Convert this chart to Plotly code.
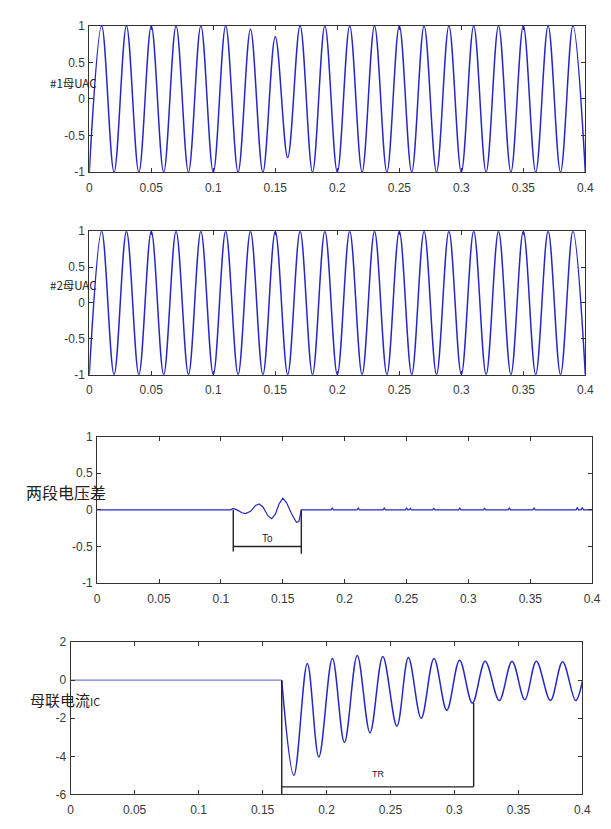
import plotly.graph_objects as go

# ---------------- data ----------------
# Bus #1 / #2 voltage: extrema every half cycle (50 Hz), t = 0 .. 0.40
t_ext = [round(0.01 * i, 2) for i in range(41)]
uac1 = [-1, 1, -1, 1, -1, 1, -1, 1, -1, 1,
        -1, 1, -1, 0.95, -1, 0.85, -0.8, 1, -1, 1,
        -1, 1, -1, 1, -1, 1, -1, 1, -1, 1,
        -1, 1, -1, 1, -1, 1, -1, 1, -1, 1, -1]
uac2 = [-1, 1, -1, 1, -1, 1, -1, 1, -1, 1,
        -1, 1, -1, 1, -1, 1, -1, 1, -1, 1,
        -1, 1, -1, 1, -1, 1, -1, 1, -1, 1,
        -1, 1, -1, 1, -1, 1, -1, 1, -1, 1, -1]

# Voltage difference between the two sections
du_t = [0, 0.108, 0.110, 0.113, 0.117, 0.120, 0.124, 0.128, 0.131, 0.134,
        0.138, 0.141, 0.144, 0.147, 0.150, 0.153, 0.157, 0.161, 0.163, 0.165]
du_v = [0, 0.0, 0.02, 0.0, -0.04, -0.05, -0.02, 0.06, 0.08, 0.04,
        -0.08, -0.12, -0.06, 0.08, 0.16, 0.10, -0.05, -0.17, -0.16, 0.0]
spike_t = [0.190, 0.211, 0.232, 0.250, 0.253, 0.272, 0.293, 0.313, 0.333, 0.353, 0.388, 0.392]
spike_h = [0.025, 0.025, 0.025, 0.025, 0.02, 0.02, 0.025, 0.02, 0.025, 0.025, 0.03, 0.03]

# Bus-tie current IC
ic_flat_t = [0, 0.165]
ic_flat_v = [0, 0]
ic_t = [0.165, 0.1745, 0.185, 0.194, 0.2046, 0.214, 0.224, 0.234, 0.244, 0.255,
        0.264, 0.274, 0.284, 0.294, 0.304, 0.314, 0.324, 0.335, 0.345, 0.355,
        0.364, 0.375, 0.3845, 0.3947, 0.4]
ic_v = [0, -5.0, 0.88, -4.03, 1.14, -3.27, 1.3, -2.76, 1.25, -2.42,
        1.19, -2.0, 1.14, -1.58, 1.05, -1.2, 1.0, -1.07, 1.0, -1.03,
        1.0, -1.07, 0.97, -1.07, -0.05]

# bracket markers
to_start, to_end, to_bar, to_left_bottom, to_right_bottom = 0.110, 0.165, -0.5, -0.57, -0.6
tr_start, tr_end, tr_bar, tr_right_top = 0.165, 0.315, -5.6, -1.2

# ticks
x_ticks = [0, 0.05, 0.1, 0.15, 0.2, 0.25, 0.3, 0.35, 0.4]
x_labels = ["0", "0.05", "0.1", "0.15", "0.2", "0.25", "0.3", "0.35", "0.4"]
y_ticks_u = [-1, -0.5, 0, 0.5, 1]
y_labels_u = ["-1", "-0.5", "0", "0.5", "1"]
y_ticks_i = [-6, -4, -2, 0, 2]
y_labels_i = ["-6", "-4", "-2", "0", "2"]

# ---------------- figure ----------------
W, H = 611, 829
BLUE = "#2727c4"
fig = go.Figure()

fig.add_trace(go.Scatter(x=t_ext, y=uac1, mode="lines", line=dict(color=BLUE, width=1.5, shape="spline"),
                         xaxis="x", yaxis="y", hoverinfo="skip"))
fig.add_trace(go.Scatter(x=t_ext, y=uac2, mode="lines", line=dict(color=BLUE, width=1.5, shape="spline"),
                         xaxis="x2", yaxis="y2", hoverinfo="skip"))

# voltage difference: oscillation + spikes
dx, dy = list(du_t), list(du_v)
for st, sh in zip(spike_t, spike_h):
    dx += [st - 0.001, st, st + 0.001]
    dy += [0, sh, 0]
dx.append(0.4)
dy.append(0)
fig.add_trace(go.Scatter(x=dx, y=dy, mode="lines", line=dict(color=BLUE, width=1.2),
                         xaxis="x3", yaxis="y3", hoverinfo="skip"))
fig.add_trace(go.Scatter(
    x=[to_start, to_start, None, to_end, to_end, None, to_start, to_end],
    y=[0, to_left_bottom, None, 0, to_right_bottom, None, to_bar, to_bar],
    mode="lines", line=dict(color="#222", width=1.4), xaxis="x3", yaxis="y3", hoverinfo="skip"))

fig.add_trace(go.Scatter(x=ic_flat_t, y=ic_flat_v, mode="lines", line=dict(color="#7a7ae0", width=1.2),
                         xaxis="x4", yaxis="y4", hoverinfo="skip"))
fig.add_trace(go.Scatter(x=ic_t, y=ic_v, mode="lines", line=dict(color=BLUE, width=1.5, shape="spline"),
                         xaxis="x4", yaxis="y4", hoverinfo="skip"))
fig.add_trace(go.Scatter(
    x=[tr_start, tr_start, None, tr_end, tr_end, None, tr_start, tr_end],
    y=[0, -6, None, tr_right_top, tr_bar, None, tr_bar, tr_bar],
    mode="lines", line=dict(color="#222", width=1.4), xaxis="x4", yaxis="y4", hoverinfo="skip"))


def px_x(p):
    return p / W


def px_y(p):
    return 1 - p / H


panels = [
    # left, right, top, bottom (pixels)
    (88, 594, 19, 168),
    (88, 594, 228, 374),
    (96, 601, 437, 586),
    (69, 591, 646, 801),
]
axfont = dict(family="Liberation Sans, Arial, sans-serif", size=12, color="#3a3a3a")
common = dict(showline=True, linecolor="#333", linewidth=1, mirror="ticks", ticks="inside",
              ticklen=4, tickcolor="#333", showgrid=False, zeroline=False, tickfont=axfont,
              fixedrange=True)
layout_axes = {}
for i, (l, r, t, b) in enumerate(panels, start=1):
    sx = "" if i == 1 else str(i)
    layout_axes["xaxis" + sx] = dict(domain=[px_x(l), px_x(r)], anchor="y" + sx, range=[0, 0.4],
                                    tickvals=x_ticks, ticktext=x_labels, ticklabelstandoff=4,
                                    **common)
    if i < 4:
        yr, yt, yl = [-1, 1], y_ticks_u, y_labels_u
    else:
        yr, yt, yl = [-6, 2], y_ticks_i, y_labels_i
    layout_axes["yaxis" + sx] = dict(domain=[px_y(b), px_y(t)], anchor="x" + sx, range=yr,
                                    tickvals=yt, ticktext=yl, ticklabelstandoff=1, **common)

cjk = "Noto Sans CJK SC, sans-serif"
annotations = [
    dict(text="#1母UAC", x=px_x(46), y=px_y(77), xref="paper", yref="paper", xanchor="left",
         yanchor="middle", showarrow=False, font=dict(family=cjk, size=11.5, color="#222")),
    dict(text="#2母UAC", x=px_x(46), y=px_y(283), xref="paper", yref="paper", xanchor="left",
         yanchor="middle", showarrow=False, font=dict(family=cjk, size=11.5, color="#222")),
    dict(text="两段电压差", x=px_x(21), y=px_y(493), xref="paper", yref="paper", xanchor="left",
         yanchor="middle", showarrow=False, font=dict(family=cjk, size=16, color="#222")),
    dict(text="母联电流<span style='font-size:11px'>IC</span>", x=px_x(25), y=px_y(704), xref="paper",
         yref="paper", xanchor="left", yanchor="middle", showarrow=False,
         font=dict(family=cjk, size=15, color="#222")),
    dict(text="To", x=(to_start + to_end) / 2, y=to_bar, xref="x3", yref="y3", yanchor="bottom",
         showarrow=False, font=dict(family="Liberation Sans, Arial", size=10, color="#222")),
    dict(text="TR", x=0.24, y=tr_bar + 0.3, xref="x4", yref="y4", yanchor="bottom",
         showarrow=False, font=dict(family="Liberation Sans, Arial", size=9, color="#222")),
]

fig.update_layout(width=W, height=H, margin=dict(l=0, r=0, t=0, b=0), showlegend=False,
                  paper_bgcolor="white", plot_bgcolor="white", annotations=annotations,
                  **layout_axes)

fig.write_html("out.html", config={"displayModeBar": False, "staticPlot": True},
               post_script="document.body.style.margin='0';document.body.style.padding='0';")
